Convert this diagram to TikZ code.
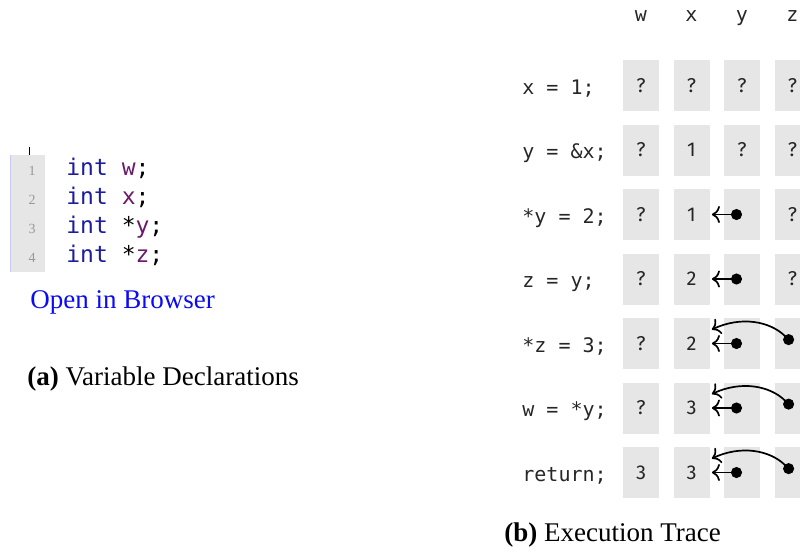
\documentclass[tikz,border=0pt]{standalone}
\usepackage{fontspec}
\setmainfont{Liberation Serif}
\newfontfamily\codefont{DejaVu Sans Mono}
\newfontfamily\valfont{Fira Sans}
\usetikzlibrary{arrows.meta, positioning}

\definecolor{cellgray}{HTML}{E6E6E6}
\definecolor{kwblue}{HTML}{1C1C9C}
\definecolor{varpurple}{HTML}{6B1A6B}
\definecolor{gutterline}{HTML}{C8C8F8}
\definecolor{linkblue}{HTML}{0A0AF5}

\begin{document}
\begin{tikzpicture}[x=0.5pt, y=-0.5pt,
  cell/.style={fill=cellgray, minimum width=18pt, minimum height=25.5pt, inner sep=0pt, text=black!85, font=\valfont\fontsize{10}{12}\selectfont},
  stmt/.style={anchor=base west, inner sep=0pt, text=black!85, font=\codefont\fontsize{10}{12}\selectfont},
  listing/.style={anchor=base west, inner sep=0pt, font=\codefont\fontsize{11.5}{14}\selectfont},
  lineno/.style={anchor=base, inner sep=0pt, text=black!40, font=\fontsize{7}{8}\selectfont},
  caption/.style={anchor=base west, inner sep=0pt, font=\fontsize{13.5}{16}\selectfont},
  ptr/.style={{Circle[length=5.5pt]}-{To[length=4pt,width=8.5pt]}, line width=0.85pt}]

\useasboundingbox (0,0) rectangle (800,554);

% Left: the declarations with their line-number gutter
\fill[cellgray] (10,155) rectangle (45,272);
\draw[gutterline, line width=0.6pt] (10.5,155) -- (10.5,272);
\draw[line width=0.4pt] (29.7,147) -- (29.7,155);
\foreach \n/\star/\v in {1//w, 2//x, 3/*/y, 4/*/z} {
  \node[lineno] (n\n) at (32,{175+29*(\n-1)}) {\n};
  \node[listing] (decl\n) at (66,{175+29*(\n-1)}) {\textcolor{kwblue}{int} \star\textcolor{varpurple}{\v};};
}
\node[caption, text=linkblue] (open) at (30,308) {Open in Browser};
\node[caption] (capa) at (27,385) {\textbf{(a)} Variable Declarations};

% Right: the trace, one row per statement
\foreach \c/\xc in {w/641, x/691.5, y/742, z/792.5}
  \node[stmt, anchor=base] (h\c) at (\xc,21) {\c};

\foreach \r/\code/\vw/\vx/\vy/\vz in {
    1/{x = 1;}/?/?/?/?,
    2/{y = \&x;}/?/1/?/?,
    3/{*y = 2;}/?/1//?,
    4/{z = y;}/?/2//?,
    5/{*z = 3;}/?/2//,
    6/{w = *y;}/?/3//,
    7/{return;}/3/3//} {
  \node[stmt] (s\r) at (522,{94+64.5*(\r-1)}) {\code};
  \node[cell] (w\r) at (641,{85.5+64.5*(\r-1)}) {\vw};
  \node[cell] (x\r) at (691.5,{85.5+64.5*(\r-1)}) {\vx};
  \node[cell] (y\r) at (742,{85.5+64.5*(\r-1)}) {\vy};
  \node[cell] (z\r) at (792.5,{85.5+64.5*(\r-1)}) {\vz};
}

% Pointers: y points to x, later z too
\foreach \r in {3,...,7}
  \draw[ptr] (y\r.center) -- ([xshift=1pt]x\r.east);
\foreach \r in {5,6,7}
  \draw[ptr] (z\r.center) to[bend right=35] ([xshift=1pt,yshift=7pt]x\r.east);

\node[caption] (capb) at (504,541) {\textbf{(b)} Execution Trace};

\end{tikzpicture}
\end{document}
